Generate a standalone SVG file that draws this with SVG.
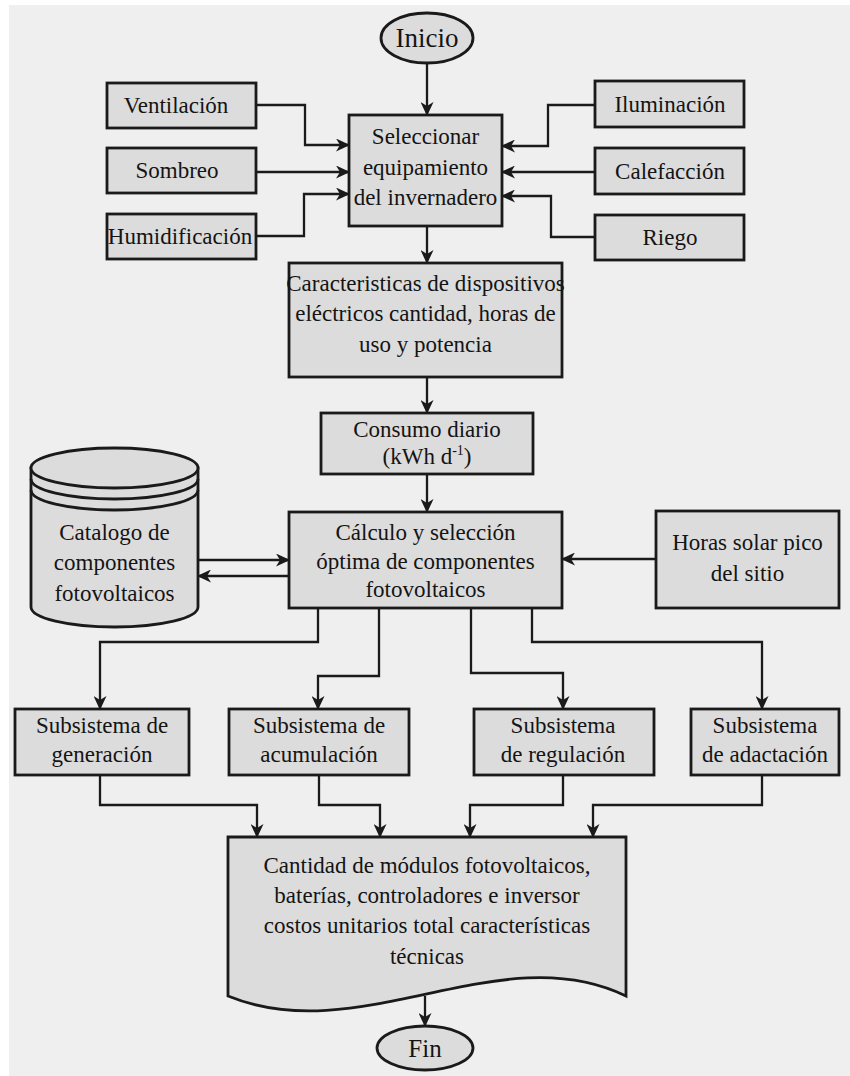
<svg xmlns="http://www.w3.org/2000/svg" width="850" height="1076" viewBox="0 0 850 1076">
  <defs>
    <style>
      .box { fill: #dcdcdc; stroke: #1a1a1a; stroke-width: 2.8; }
      .conn { fill: none; stroke: #1a1a1a; stroke-width: 2.3; marker-end: url(#arrow); }
      .plain { fill: none; stroke: #1a1a1a; stroke-width: 2.8; }
      text { font-family: "Liberation Serif", "Times New Roman", "DejaVu Serif", serif; font-size: 23px; fill: #141414; text-anchor: middle; }
      .term { font-size: 27px; }
    </style>
    <marker id="arrow" markerUnits="userSpaceOnUse" markerWidth="14" markerHeight="13" refX="13" refY="6.5" orient="auto">
      <path d="M0,0 L14,6.5 L0,13 L4,6.5 z" fill="#1a1a1a"/>
    </marker>
  </defs>

  <!-- page -->
  <rect x="0" y="0" width="850" height="1076" fill="#ffffff"/>
  <rect x="9" y="5" width="841" height="1071" fill="#efefef"/>

  <!-- connectors -->
  <g id="connectors">
    <path class="conn" d="M427,63 V115"/>
    <path class="conn" d="M256,105 H305 V145 H349"/>
    <path class="conn" d="M256,172 H349"/>
    <path class="conn" d="M256,236 H304 V194 H349"/>
    <path class="conn" d="M595,105 H548 V146 H502"/>
    <path class="conn" d="M595,172 H502"/>
    <path class="conn" d="M595,237 H551 V196 H502"/>
    <path class="conn" d="M427,226 V263"/>
    <path class="conn" d="M427,377 V413"/>
    <path class="conn" d="M427,474 V512"/>
    <path class="conn" d="M198,560 H289"/>
    <path class="conn" d="M289,576 H198"/>
    <path class="conn" d="M656,559 H562"/>
    <path class="conn" d="M318,608 V642 H100 V709"/>
    <path class="conn" d="M379,608 V676 H318 V709"/>
    <path class="conn" d="M471,608 V673 H563 V709"/>
    <path class="conn" d="M532,608 V642 H762 V709"/>
    <path class="conn" d="M100,775 V805 H257 V837"/>
    <path class="conn" d="M319,775 V805 H380 V837"/>
    <path class="conn" d="M563,775 V805 H470 V837"/>
    <path class="conn" d="M762,775 V805 H593 V837"/>
    <path class="conn" d="M425,996 V1026"/>
  </g>

  <g id="inicio">
    <ellipse class="box" cx="427" cy="38" rx="46" ry="25"/>
    <text class="term" x="427" y="47">Inicio</text>
  </g>

  <g id="ventilacion">
    <rect class="box" x="107" y="83" width="149" height="45"/>
    <text x="176" y="113">Ventilación</text>
  </g>
  <g id="sombreo">
    <rect class="box" x="107" y="148" width="149" height="45"/>
    <text x="177" y="178">Sombreo</text>
  </g>
  <g id="humidificacion">
    <rect class="box" x="107" y="214" width="149" height="45"/>
    <text x="180" y="244">Humidificación</text>
  </g>

  <g id="iluminacion">
    <rect class="box" x="595" y="81" width="149" height="46"/>
    <text x="670" y="112">Iluminación</text>
  </g>
  <g id="calefaccion">
    <rect class="box" x="595" y="148" width="149" height="46"/>
    <text x="670" y="179">Calefacción</text>
  </g>
  <g id="riego">
    <rect class="box" x="595" y="215" width="149" height="45"/>
    <text x="670" y="245">Riego</text>
  </g>

  <g id="seleccionar">
    <rect class="box" x="349" y="115" width="153" height="111"/>
    <text x="425.5" y="144">Seleccionar</text>
    <text x="425.5" y="175">equipamiento</text>
    <text x="425.5" y="205">del invernadero</text>
  </g>

  <g id="caracteristicas">
    <rect class="box" x="289" y="263" width="273" height="114"/>
    <text x="425.5" y="291">Caracteristicas de dispositivos</text>
    <text x="425.5" y="321">eléctricos cantidad, horas de</text>
    <text x="425.5" y="352">uso y potencia</text>
  </g>

  <g id="consumo">
    <rect class="box" x="321" y="413" width="212" height="61"/>
    <text x="427" y="437">Consumo diario</text>
    <text x="427" y="464">(kWh d<tspan font-size="14" dy="-9">-1</tspan><tspan dy="9">)</tspan></text>
  </g>

  <g id="calculo">
    <rect class="box" x="289" y="512" width="273" height="96"/>
    <text x="425.5" y="540">Cálculo y selección</text>
    <text x="425.5" y="569">óptima de componentes</text>
    <text x="425.5" y="597">fotovoltaicos</text>
  </g>

  <g id="catalogo">
    <path class="box" d="M31,468 V607 A83.5,20 0 0 0 198,607 V468 Z"/>
    <ellipse class="box" cx="114.5" cy="468" rx="83.5" ry="20"/>
    <path class="plain" d="M31,479 A83.5,20 0 0 0 198,479"/>
    <path class="plain" d="M31,490 A83.5,20 0 0 0 198,490"/>
    <text x="114.5" y="540">Catalogo de</text>
    <text x="114.5" y="570">componentes</text>
    <text x="114.5" y="601">fotovoltaicos</text>
  </g>

  <g id="horas-solar">
    <rect class="box" x="656" y="511" width="183" height="97"/>
    <text x="747.5" y="550">Horas solar pico</text>
    <text x="747.5" y="581">del sitio</text>
  </g>

  <g id="generacion">
    <rect class="box" x="15" y="709" width="174" height="66"/>
    <text x="102" y="733">Subsistema de</text>
    <text x="102" y="762">generación</text>
  </g>
  <g id="acumulacion">
    <rect class="box" x="229" y="709" width="180" height="66"/>
    <text x="319" y="733">Subsistema de</text>
    <text x="319" y="762">acumulación</text>
  </g>
  <g id="regulacion">
    <rect class="box" x="474" y="709" width="180" height="66"/>
    <text x="563" y="733">Subsistema</text>
    <text x="563" y="762">de regulación</text>
  </g>
  <g id="adactacion">
    <rect class="box" x="691" y="709" width="148" height="66"/>
    <text x="765" y="733">Subsistema</text>
    <text x="765" y="762">de adactación</text>
  </g>

  <g id="resultado">
    <path class="box" d="M228,837 H626 V996 C500,935 360,1050 228,996 Z"/>
    <text x="427" y="873">Cantidad de módulos fotovoltaicos,</text>
    <text x="427" y="903">baterías, controladores e inversor</text>
    <text x="427" y="933">costos unitarios total características</text>
    <text x="427" y="964">técnicas</text>
  </g>

  <g id="fin">
    <ellipse class="box" cx="425" cy="1048" rx="48" ry="22"/>
    <text class="term" x="425" y="1057" style="font-size:25px">Fin</text>
  </g>
</svg>
